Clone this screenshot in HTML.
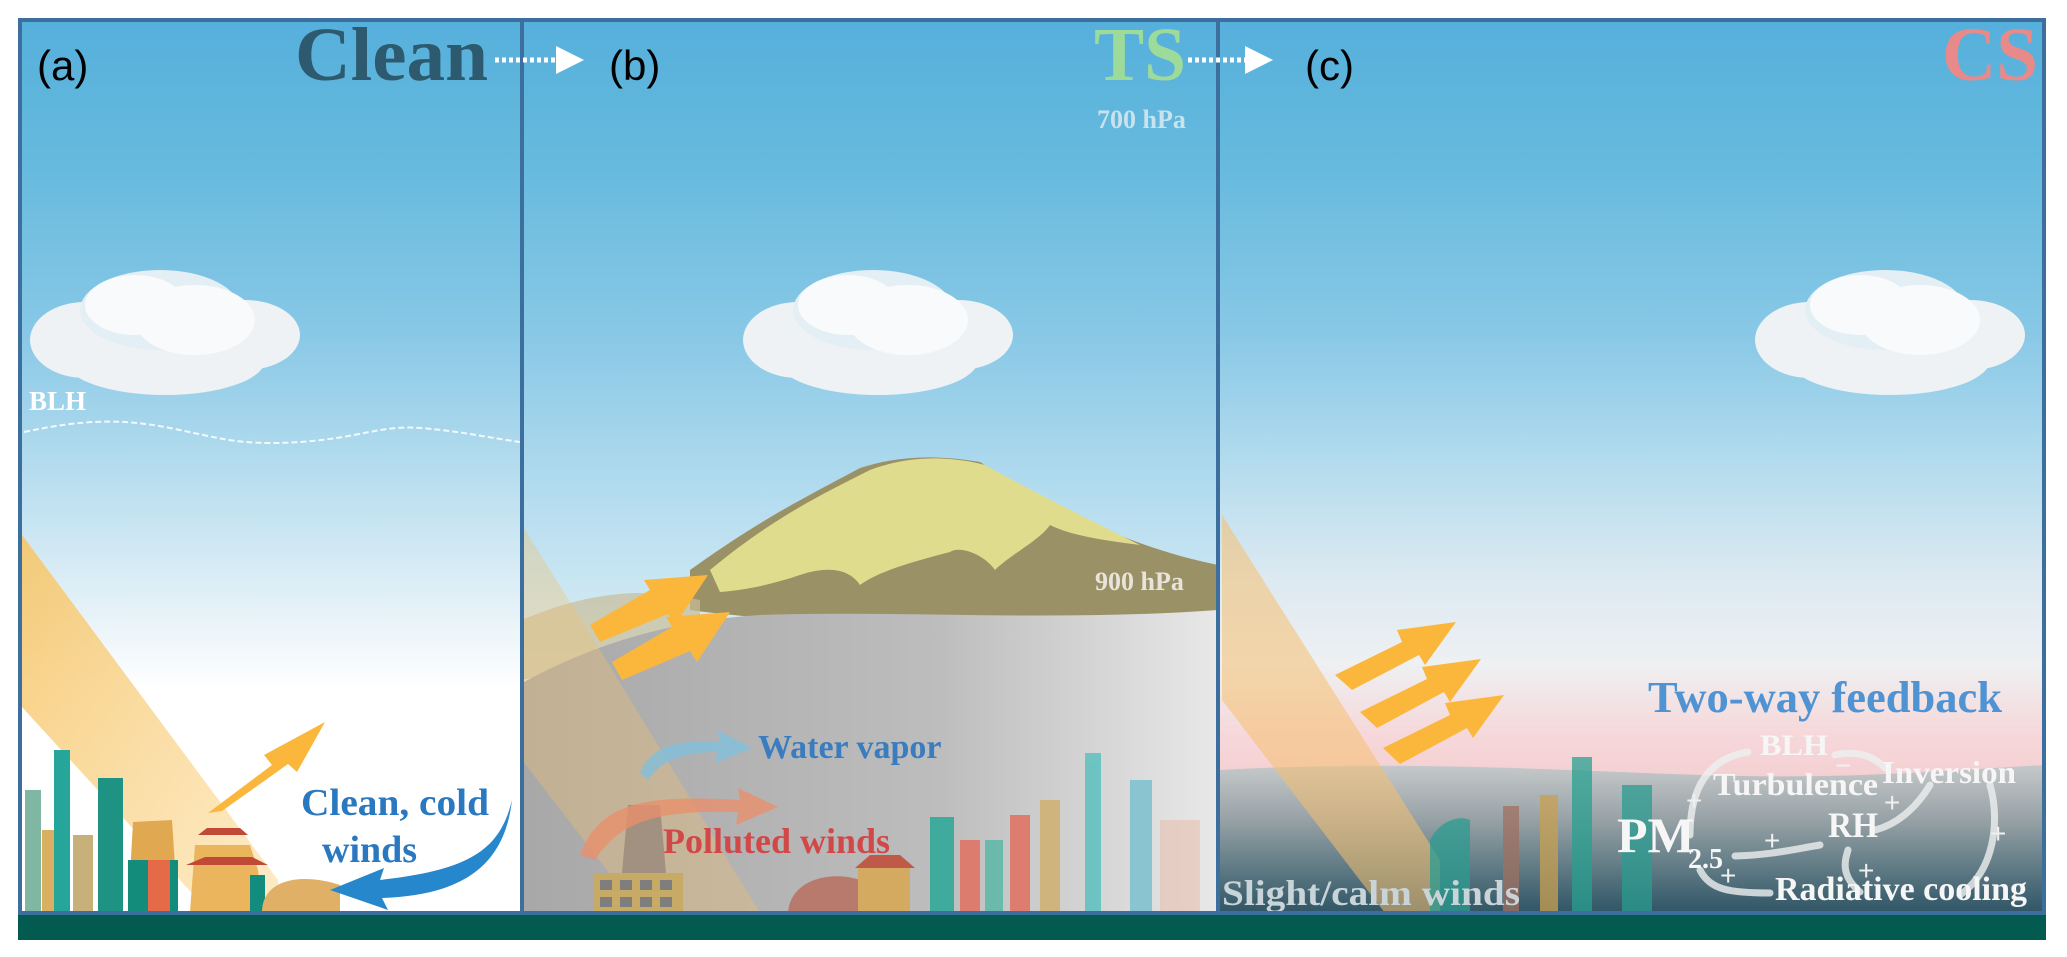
<!DOCTYPE html>
<html><head><meta charset="utf-8"><style>html,body{margin:0;padding:0;background:#fff;}svg{display:block}</style></head>
<body>
<svg width="2067" height="957" viewBox="0 0 2067 957" xmlns="http://www.w3.org/2000/svg">
<defs>
<linearGradient id="skyA" x1="0" y1="0" x2="0" y2="1">
<stop offset="0" stop-color="#56b0dc"/><stop offset="0.15" stop-color="#64b9dd"/><stop offset="0.35" stop-color="#88c8e6"/><stop offset="0.5" stop-color="#b4dcee"/><stop offset="0.65" stop-color="#e2f0f7"/><stop offset="0.75" stop-color="#ffffff"/><stop offset="1" stop-color="#ffffff"/></linearGradient>
<linearGradient id="skyB" x1="0" y1="0" x2="0" y2="1">
<stop offset="0" stop-color="#56b0dc"/><stop offset="0.15" stop-color="#64b9dd"/><stop offset="0.35" stop-color="#88c8e6"/><stop offset="0.55" stop-color="#b8def0"/><stop offset="0.7" stop-color="#d8ecf4"/><stop offset="1" stop-color="#e8eef0"/></linearGradient>
<linearGradient id="skyC" x1="0" y1="0" x2="0" y2="1">
<stop offset="0" stop-color="#56b0dc"/><stop offset="0.15" stop-color="#64b9dd"/><stop offset="0.35" stop-color="#88c8e6"/><stop offset="0.5" stop-color="#b4dcee"/><stop offset="0.62" stop-color="#dbe9f1"/><stop offset="0.72" stop-color="#eef0f2"/><stop offset="0.8" stop-color="#f6d8da"/><stop offset="0.87" stop-color="#f3cccf"/><stop offset="1" stop-color="#f3cccf"/></linearGradient>
<linearGradient id="hazeC" x1="0" y1="0" x2="0" y2="1">
<stop offset="0" stop-color="#c6c9ca"/><stop offset="0.35" stop-color="#9aa4a8"/><stop offset="0.7" stop-color="#5f7a84"/><stop offset="1" stop-color="#2f5566"/></linearGradient>
<linearGradient id="hazeB" x1="0" y1="0" x2="1" y2="0">
<stop offset="0" stop-color="#a8a8a8"/><stop offset="0.6" stop-color="#bdbdbd"/><stop offset="1" stop-color="#e8e8e8"/></linearGradient>
<linearGradient id="beam" x1="0" y1="0" x2="1" y2="1">
<stop offset="0" stop-color="#f6c66a" stop-opacity="0.9"/><stop offset="1" stop-color="#fde3b0" stop-opacity="0.7"/></linearGradient>
<g id="cloud">
<ellipse cx="60" cy="75" rx="55" ry="38" fill="#eef2f4"/>
<ellipse cx="140" cy="95" rx="100" ry="35" fill="#eef2f4"/>
<ellipse cx="220" cy="70" rx="55" ry="35" fill="#eef2f4"/>
<ellipse cx="135" cy="45" rx="80" ry="40" fill="#e4eff5"/>
<ellipse cx="110" cy="40" rx="50" ry="30" fill="#f8fafb"/>
<ellipse cx="170" cy="55" rx="60" ry="35" fill="#f8fafb"/>
</g>
</defs>

<rect x="20" y="20" width="502" height="893" fill="url(#skyA)"/>
<rect x="522" y="20" width="696" height="893" fill="url(#skyB)"/>
<rect x="1218" y="20" width="826" height="893" fill="url(#skyC)"/>

<use href="#cloud" transform="translate(25,265)"/>
<use href="#cloud" transform="translate(738,265)"/>
<use href="#cloud" transform="translate(1750,265)"/>

<text x="29" y="410" font-family="Liberation Serif" font-weight="bold" font-size="27" fill="#fff">BLH</text>
<path d="M24 432 C80 420,120 418,170 428 C220 438,240 446,300 442 C360 438,380 425,420 428 C460 431,490 438,520 442" stroke="#fff" stroke-width="2" stroke-dasharray="6,3" fill="none" opacity="0.85"/>

<polygon points="22,535 278,880 278,913 210,913 22,707" fill="url(#beam)"/>
<g>
<rect x="25" y="790" width="16" height="122" fill="#7fb7a3"/>
<rect x="42" y="830" width="14" height="82" fill="#d8b060"/>
<rect x="54" y="750" width="16" height="162" fill="#26a69a"/>
<rect x="73" y="835" width="20" height="77" fill="#c8b07a"/>
<rect x="98" y="778" width="25" height="134" fill="#1f9383"/>
<polygon points="133,822 172,820 178,912 128,912" fill="#e0a850"/>
<rect x="128" y="860" width="50" height="52" fill="#148c7c"/>
<rect x="148" y="860" width="22" height="52" fill="#e46a48"/>
<polygon points="195,845 250,845 258,870 262,912 190,912" fill="#eab55c"/>
<polygon points="186,865 268,865 252,857 205,857" fill="#c04a35"/>
<polygon points="198,835 248,835 240,828 207,828" fill="#c04a35"/>
<rect x="250" y="875" width="15" height="37" fill="#128c7c"/>
<path d="M262 912 C262 880,300 872,340 885 L340 912Z" fill="#e0b066"/>
</g>
<polygon points="208,813 272,765 264,755 325,722 297,772 288,764 222,811" fill="#fbb73c"/>
<text x="301" y="815" font-family="Liberation Serif" font-weight="bold" font-size="38" fill="#2a78c0" textLength="188" lengthAdjust="spacingAndGlyphs">Clean, cold</text>
<text x="322" y="862" font-family="Liberation Serif" font-weight="bold" font-size="38" fill="#2a78c0">winds</text>
<path d="M512 800 C500 850,470 870,380 880 L384 868 L330 890 L388 910 L382 898 C470 895,505 860,512 800Z" fill="#2687cc"/>

<!-- panel b -->
<path d="M690 570 C760 520,800 500,860 468 C900 455,940 455,980 462 C1040 500,1120 545,1218 565 L1218 625 C1000 632,800 625,690 610Z" fill="#9a9166"/>
<path d="M710 570 C770 520,820 495,870 470 C910 455,950 456,985 465 C1030 490,1080 515,1140 545 C1100 540,1070 535,1050 525 C1040 540,1010 555,995 570 C985 555,960 545,950 552 C920 560,880 570,860 585 C850 570,830 565,800 575 C770 585,745 590,720 592 Z" fill="#dfdc8e"/>
<path d="M522 620 C580 595,640 585,700 600 L700 640 L522 680Z" fill="#c9bd98" opacity="0.7"/>
<path d="M522 683 C600 640,680 620,760 615 C900 610,1050 622,1218 610 L1218 913 L522 913Z" fill="url(#hazeB)"/>
<polygon points="522,525 600,650 760,913 640,913 522,760" fill="#f0c070" opacity="0.35"/>
<polygon points="590,625 650,590 644,580 708,575 675,625 668,614 600,642" fill="#fbb73c"/>
<polygon points="612,662 672,627 666,617 730,612 697,662 690,651 622,680" fill="#fbb73c"/>
<rect x="593" y="873" width="90" height="40" fill="#c6aa66"/>
<g fill="#7e7e7e"><rect x="600" y="880" width="12" height="10"/><rect x="620" y="880" width="12" height="10"/><rect x="640" y="880" width="12" height="10"/><rect x="660" y="880" width="12" height="10"/><rect x="600" y="897" width="12" height="10"/><rect x="620" y="897" width="12" height="10"/><rect x="640" y="897" width="12" height="10"/><rect x="660" y="897" width="12" height="10"/></g>
<polygon points="622,873 628,805 660,805 666,873" fill="#8a7a70" opacity="0.6"/>
<path d="M580 855 C600 800,650 795,740 800 L738 788 L778 807 L736 825 L738 812 C660 810,620 820,595 860Z" fill="#e8906c" opacity="0.8"/>
<path d="M640 773 C650 745,680 740,720 742 L717 730 L752 748 L715 763 L718 752 C690 752,665 756,648 780Z" fill="#7ec0e0" opacity="0.75"/>
<text x="758" y="758" font-family="Liberation Serif" font-weight="bold" font-size="34" fill="#3a7cc0">Water vapor</text>
<text x="663" y="853" font-family="Liberation Serif" font-weight="bold" font-size="36" fill="#d04848">Polluted winds</text>
<g opacity="0.85">
<path d="M788 913 C790 880,830 870,860 880 L860 913Z" fill="#b87060"/>
<rect x="858" y="868" width="52" height="45" fill="#d8a850"/>
<polygon points="855,868 915,868 900,855 870,855" fill="#c04a35"/>
<rect x="930" y="817" width="24" height="96" fill="#2aa898"/>
<rect x="960" y="840" width="20" height="73" fill="#e07060"/>
<rect x="985" y="840" width="18" height="73" fill="#5cb8a8"/>
<rect x="1010" y="815" width="20" height="98" fill="#e07060"/>
<rect x="1040" y="800" width="20" height="113" fill="#d0b070"/>
<rect x="1085" y="753" width="16" height="160" fill="#5cc0c0"/>
<rect x="1130" y="780" width="22" height="133" fill="#7cc0d0"/>
<rect x="1160" y="820" width="40" height="93" fill="#e8c0b0" opacity="0.7"/>
</g>
<text x="1095" y="590" font-family="Liberation Serif" font-weight="bold" font-size="26" fill="#e8e4da">900 hPa</text>
<text x="1097" y="128" font-family="Liberation Serif" font-weight="bold" font-size="26" fill="#c8e2ee">700 hPa</text>

<!-- panel c -->
<path d="M1220 770 C1400 760,1550 770,1700 775 C1850 780,1950 770,2044 765 L2044 913 L1220 913Z" fill="url(#hazeC)"/>
<polygon points="1222,515 1440,860 1440,913 1385,913 1222,700" fill="#f5c070" opacity="0.55"/>
<polygon points="1335,675 1402,642 1397,630 1456,622 1425,665 1419,655 1352,690" fill="#fbb73c"/>
<polygon points="1360,712 1427,679 1422,667 1481,659 1450,702 1444,692 1377,728" fill="#fbb73c"/>
<polygon points="1383,748 1450,715 1445,703 1504,695 1473,738 1467,728 1400,764" fill="#fbb73c"/>
<g opacity="0.75">
<path d="M1430 913 L1430 840 C1440 820,1460 815,1470 820 L1470 913Z" fill="#2a9c90"/>
<rect x="1503" y="806" width="16" height="107" fill="#a07060"/>
<rect x="1540" y="795" width="18" height="118" fill="#c8a050"/>
<rect x="1572" y="757" width="20" height="156" fill="#28a090"/>
<rect x="1622" y="785" width="30" height="128" fill="#2a9c90"/>
</g>
<text x="1222" y="905" font-family="Liberation Serif" font-weight="bold" font-size="36" fill="#c8d4d8" textLength="298" lengthAdjust="spacingAndGlyphs">Slight/calm winds</text>

<text x="1648" y="712" font-family="Liberation Serif" font-weight="bold" font-size="44" fill="#4f93d2" textLength="354" lengthAdjust="spacingAndGlyphs">Two-way feedback</text>
<g fill="none" stroke="#eef0f0" stroke-width="7" opacity="0.8" stroke-linecap="round">
<path d="M1748 752 C1700 760,1690 800,1690 835"/>
<path d="M1885 768 C1870 752,1850 752,1835 755"/>
<path d="M1930 785 C1915 810,1895 825,1875 830"/>
<path d="M1820 845 C1790 850,1770 855,1735 856"/>
<path d="M1860 892 C1840 875,1845 860,1848 850"/>
<path d="M1700 870 C1710 890,1730 893,1770 893"/>
<path d="M1960 895 C1995 870,2000 820,1990 785"/>
</g>
<g font-family="Liberation Serif" font-weight="bold" fill="#f6f6f6">
<text x="1760" y="755" font-size="30" textLength="68" lengthAdjust="spacingAndGlyphs">BLH</text>
<text x="1882" y="783" font-size="32" textLength="134" lengthAdjust="spacingAndGlyphs">Inversion</text>
<text x="1713" y="795" font-size="32" textLength="165" lengthAdjust="spacingAndGlyphs">Turbulence</text>
<text x="1828" y="837" font-size="36" textLength="50" lengthAdjust="spacingAndGlyphs">RH</text>
<text x="1617" y="852" font-size="50">PM</text>
<text x="1688" y="868" font-size="28">2.5</text>
<text x="1775" y="900" font-size="34" textLength="252" lengthAdjust="spacingAndGlyphs">Radiative cooling</text>
</g>
<g font-family="Liberation Sans" font-size="28" fill="#f0f0f0">
<text x="1686" y="810">+</text><text x="1884" y="812">+</text><text x="1764" y="850">+</text>
<text x="1858" y="880">+</text><text x="1720" y="885">+</text><text x="1990" y="843">+</text>
<text x="1835" y="775">−</text>
</g>

<g fill="none" stroke="#3d6f9e" stroke-width="4">
<rect x="20" y="20" width="2024" height="893"/>
<line x1="522" y1="20" x2="522" y2="913"/>
<line x1="1218" y1="20" x2="1218" y2="913"/>
</g>
<rect x="18" y="915" width="2028" height="25" fill="#035a4e"/>

<text x="37" y="80" font-family="Liberation Sans" font-size="42" fill="#000">(a)</text>
<text x="609" y="80" font-family="Liberation Sans" font-size="42" fill="#000">(b)</text>
<text x="1305" y="80" font-family="Liberation Sans" font-size="42" fill="#000">(c)</text>
<text x="295" y="80" font-family="Liberation Serif" font-weight="bold" font-size="76" fill="#2d5a6e" textLength="193" lengthAdjust="spacingAndGlyphs">Clean</text>
<text x="1094" y="80" font-family="Liberation Serif" font-weight="bold" font-size="76" fill="#9ddb9a" textLength="92" lengthAdjust="spacingAndGlyphs">TS</text>
<text x="1942" y="80" font-family="Liberation Serif" font-weight="bold" font-size="76" fill="#e88a8a" textLength="96" lengthAdjust="spacingAndGlyphs">CS</text>
<g stroke="#fff" stroke-width="5" stroke-dasharray="4,3">
<line x1="495" y1="60" x2="556" y2="60"/>
<line x1="1188" y1="60" x2="1245" y2="60"/>
</g>
<polygon points="556,46 584,60 556,74" fill="#fff"/>
<polygon points="1245,46 1273,60 1245,74" fill="#fff"/>
</svg>
</body></html>
